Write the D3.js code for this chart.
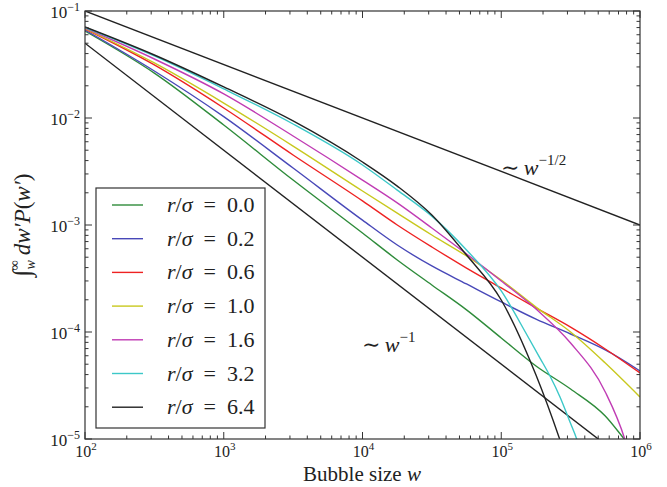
<!DOCTYPE html>
<html><head><meta charset="utf-8">
<script src="https://cdnjs.cloudflare.com/ajax/libs/d3/7.8.5/d3.min.js"></script>
<style>
body{margin:0;background:#fff;}
svg{display:block;}
text{font-family:"Liberation Serif","DejaVu Serif",serif;fill:#222;}
</style>
</head><body>
<svg id="chart" width="667" height="487"></svg>
<script>
// ---- data ----
const rLabels = ["0.0", "0.2", "0.6", "1.0", "1.6", "3.2", "6.4"];
const seriesColors = ["#2e8b3a", "#4848b8", "#ee2222", "#c8c81e", "#c03cb4", "#3cc8c8", "#222222"];

const wGrid = [1e2, 3.16e2, 1e3, 3.16e3, 1e4, 1.78e4, 3.16e4, 5.62e4, 1e5, 1.78e5, 3.16e5, 5.62e5, 1e6];

const w00 = [1e2, 3.16e2, 1e3, 3.16e3, 1e4, 1.78e4, 3.16e4, 5.62e4, 1e5, 1.78e5, 3.16e5, 5.62e5, 7.8e5, 1e6];
const p00 = [6.50e-2, 2.63e-2, 8.60e-3, 2.63e-3, 8.42e-4, 4.71e-4, 2.75e-4, 1.61e-4, 8.79e-5, 4.81e-5, 2.93e-5, 1.64e-5, 9.79e-6, 6.64e-6];

const w02 = wGrid;
const p02 = [6.64e-2, 2.75e-2, 1.03e-2, 3.41e-3, 1.11e-3, 6.50e-4, 4.14e-4, 2.81e-4, 1.91e-4, 1.32e-4, 9.58e-5, 6.79e-5, 4.32e-5];

const w06 = wGrid;
const p06 = [6.79e-2, 3.13e-2, 1.24e-2, 4.51e-3, 1.68e-3, 1.00e-3, 6.23e-4, 3.96e-4, 2.58e-4, 1.68e-4, 1.11e-4, 6.94e-5, 4.14e-5];

const w10 = wGrid;
const p10 = [6.86e-2, 3.27e-2, 1.38e-2, 5.47e-3, 2.08e-3, 1.29e-3, 8.06e-4, 5.13e-4, 3.06e-4, 1.71e-4, 1.00e-4, 5.13e-5, 2.47e-5];

const w16 = [1e2, 3.16e2, 1e3, 3.16e3, 1e4, 1.78e4, 3.16e4, 5.62e4, 1e5, 1.78e5, 3.16e5, 5.62e5, 7.8e5, 8.76e5];
const p16 = [6.94e-2, 3.56e-2, 1.68e-2, 6.79e-3, 2.63e-3, 1.61e-3, 9.38e-4, 5.36e-4, 3.00e-4, 1.64e-4, 7.89e-5, 2.75e-5, 9.79e-6, 5.71e-6];

const w32 = [1e2, 3.16e2, 1e3, 3.16e3, 1e4, 1.78e4, 3.16e4, 5.62e4, 1e5, 1.533e5, 1.902e5, 2.245e5, 2.651e5, 3.13e5, 3.515e5, 3.819e5];
const p32 = [7.01e-2, 3.80e-2, 1.87e-2, 8.79e-3, 3.64e-3, 2.12e-3, 1.21e-3, 5.84e-4, 2.42e-4, 9.38e-5, 5.71e-5, 3.88e-5, 2.47e-5, 1.44e-5, 9.79e-6, 6.64e-6];

const w64 = [1e2, 3.16e2, 1e3, 3.16e3, 1e4, 1.78e4, 3.16e4, 5.62e4, 1e5, 1.78e5, 2.65e5, 3.13e5];
const p64 = [7.09e-2, 3.88e-2, 1.95e-2, 9.38e-3, 3.88e-3, 2.31e-3, 1.24e-3, 5.24e-4, 1.99e-4, 3.96e-5, 9.79e-6, 5.13e-6];

// guide power laws
const refW = [1e2, 1e6];
const refHalf = [1e-1, 1e-3];   // ~ w^-1/2
const refOne = [5e-2, 5e-6];    // ~ w^-1

const xDecades = [2, 3, 4, 5, 6];
const yDecades = [-1, -2, -3, -4, -5];

// ---- drawing ----
const svg = d3.select("#chart");
const M = {left: 85, right: 640, top: 11, bottom: 439};
const x = d3.scaleLog().domain([1e2, 1e6]).range([M.left, M.right]);
const y = d3.scaleLog().domain([1e-5, 1e-1]).range([M.bottom, M.top]);

svg.append("defs").append("clipPath").attr("id", "clip")
  .append("rect").attr("x", M.left).attr("y", M.top)
  .attr("width", M.right - M.left).attr("height", M.bottom - M.top);

const series = [
  {w: w00, p: p00}, {w: w02, p: p02}, {w: w06, p: p06}, {w: w10, p: p10},
  {w: w16, p: p16}, {w: w32, p: p32}, {w: w64, p: p64}
].map((s, i) => ({...s, label: rLabels[i], color: seriesColors[i]}));

const line = d3.line().x(d => x(d[0])).y(d => y(d[1])).curve(d3.curveMonotoneX);
const straight = d3.line().x(d => x(d[0])).y(d => y(d[1]));
const plot = svg.append("g").attr("clip-path", "url(#clip)");

// guide lines
[refHalf, refOne].forEach(ref => {
  plot.append("path").datum(d3.zip(refW, ref)).attr("d", straight)
    .attr("fill", "none").attr("stroke", "#222").attr("stroke-width", 1.4);
});

series.forEach(s => {
  plot.append("path").datum(d3.zip(s.w, s.p)).attr("d", line)
    .attr("fill", "none").attr("stroke", s.color).attr("stroke-width", 1.4);
});

// frame
svg.append("rect").attr("x", M.left).attr("y", M.top)
  .attr("width", M.right - M.left).attr("height", M.bottom - M.top)
  .attr("fill", "none").attr("stroke", "#333").attr("stroke-width", 1.2);

// ticks (inward, all four sides)
const tg = svg.append("g").attr("stroke", "#333").attr("stroke-width", 1);
const xMinor = [], yMinor = [];
for (let e = 2; e < 6; e++) for (let k = 2; k < 10; k++) xMinor.push(k * Math.pow(10, e));
for (let e = -5; e < -1; e++) for (let k = 2; k < 10; k++) yMinor.push(k * Math.pow(10, e));
xDecades.forEach(e => {
  const px = x(Math.pow(10, e));
  tg.append("line").attr("x1", px).attr("x2", px).attr("y1", M.bottom).attr("y2", M.bottom - 7);
  tg.append("line").attr("x1", px).attr("x2", px).attr("y1", M.top).attr("y2", M.top + 7);
});
xMinor.forEach(v => {
  const px = x(v);
  tg.append("line").attr("x1", px).attr("x2", px).attr("y1", M.bottom).attr("y2", M.bottom - 3.5);
  tg.append("line").attr("x1", px).attr("x2", px).attr("y1", M.top).attr("y2", M.top + 3.5);
});
yDecades.forEach(e => {
  const py = y(Math.pow(10, e));
  tg.append("line").attr("y1", py).attr("y2", py).attr("x1", M.left).attr("x2", M.left + 7);
  tg.append("line").attr("y1", py).attr("y2", py).attr("x1", M.right).attr("x2", M.right - 7);
});
yMinor.forEach(v => {
  const py = y(v);
  tg.append("line").attr("y1", py).attr("y2", py).attr("x1", M.left).attr("x2", M.left + 3.5);
  tg.append("line").attr("y1", py).attr("y2", py).attr("x1", M.right).attr("x2", M.right - 3.5);
});

// tick labels
xDecades.forEach(e => {
  const t = svg.append("text").attr("x", x(Math.pow(10, e)) + 1).attr("y", 457)
    .attr("text-anchor", "middle").attr("font-size", 16);
  t.append("tspan").text("10");
  t.append("tspan").attr("font-size", 11).attr("dy", -7).text(String(e));
});
yDecades.forEach(e => {
  const t = svg.append("text").attr("x", 80).attr("y", y(Math.pow(10, e)) + 7)
    .attr("text-anchor", "end").attr("font-size", 17);
  t.append("tspan").text("10");
  t.append("tspan").attr("font-size", 12).attr("dy", -7).text("\u2212" + String(-e));
});

// axis labels
const xl = svg.append("text").attr("x", 362).attr("y", 481).attr("text-anchor", "middle").attr("font-size", 21);
xl.append("tspan").text("Bubble size ");
xl.append("tspan").attr("font-style", "italic").text("w");

const yl = svg.append("g").attr("transform", "translate(30,225) rotate(-90)")
  .append("text").attr("x", 0).attr("y", 0).attr("text-anchor", "middle").attr("font-size", 23);
yl.append("tspan").attr("font-size", 25).text("\u222B");
yl.append("tspan").attr("font-size", 14).attr("font-style", "italic").attr("dy", 5).text("w");
yl.append("tspan").attr("font-size", 14).attr("dx", -10).attr("dy", -16).text("\u221E");
yl.append("tspan").attr("font-style", "italic").attr("dx", 5).attr("dy", 11).text("dw\u2032P");
yl.append("tspan").text("(");
yl.append("tspan").attr("font-style", "italic").text("w\u2032");
yl.append("tspan").text(")");

// annotations
function powerLabel(px, py, exp) {
  const t = svg.append("text").attr("x", px).attr("y", py).attr("font-size", 22);
  t.append("tspan").text("\u223C\u2009");
  t.append("tspan").attr("font-style", "italic").text("w");
  t.append("tspan").attr("font-size", 15).attr("dy", -10).text(exp);
}
powerLabel(501, 175, "\u22121/2");
powerLabel(362, 352, "\u22121");

// legend
const lg = svg.append("g");
lg.append("rect").attr("x", 96).attr("y", 188).attr("width", 169).attr("height", 240)
  .attr("fill", "#fff").attr("stroke", "#333").attr("stroke-width", 1.2);
series.forEach((s, i) => {
  const ry = 205 + i * 33.7;
  lg.append("line").attr("x1", 112).attr("x2", 143).attr("y1", ry).attr("y2", ry)
    .attr("stroke", s.color).attr("stroke-width", 1.4);
  const t = lg.append("text").attr("x", 167).attr("y", ry + 7).attr("font-size", 22);
  t.append("tspan").attr("font-style", "italic").text("r");
  t.append("tspan").text("/");
  t.append("tspan").attr("font-style", "italic").text("\u03C3");
  t.append("tspan").text("\u2002=\u2002" + s.label);
});
</script>
</body></html>
